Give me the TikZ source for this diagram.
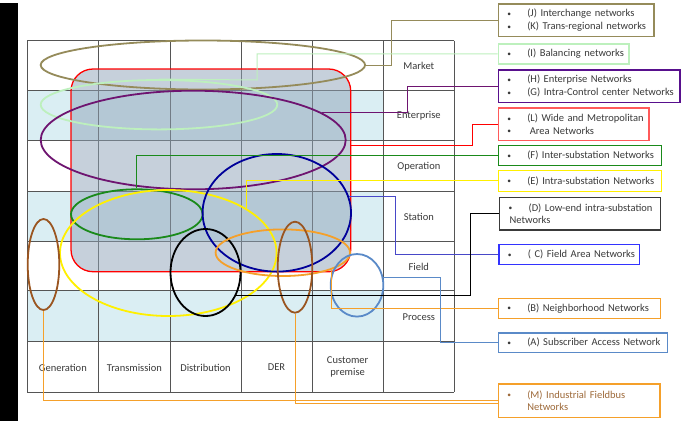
\documentclass[tikz,border=0pt]{standalone}
\usepackage{fontspec}
\setmainfont{Carlito}
\usetikzlibrary{shapes.geometric,calc}
\definecolor{lblue}{HTML}{DAEEF3}
\definecolor{gridc}{HTML}{555555}
\definecolor{olive}{HTML}{958B5A}
\definecolor{lgreen}{HTML}{BDF0BD}
\definecolor{purp}{HTML}{6E1470}
\definecolor{dgreen}{HTML}{1A8A1A}
\definecolor{yell}{HTML}{FFF000}
\definecolor{navy}{HTML}{000099}
\definecolor{orng}{HTML}{F5A02A}
\definecolor{steel}{HTML}{5A8AC8}
\definecolor{brwn}{HTML}{9A5520}
\definecolor{rfill}{HTML}{8FA3B8}
\definecolor{lred}{HTML}{FF5A5A}
\definecolor{bluebox}{HTML}{3333FF}
\definecolor{blueline}{HTML}{4848C8}
\definecolor{txt}{HTML}{3A3A3A}
\definecolor{mtxt}{HTML}{9E6A3A}
\newcommand\bl{\hspace*{9pt}\makebox[20pt][l]{\raisebox{0.5pt}{\fontsize{7.5}{8}\selectfont\textbullet}}}
\begin{document}
\begin{tikzpicture}[x=1pt,y=-1pt,
  gridline/.style={draw=gridc, line width=1pt},
  ell/.style={ellipse, draw, line width=1.8pt, inner sep=0pt},
  conn/.style={line width=1pt},
  netbox/.style={draw, line width=1.2pt, inner xsep=0pt, inner ysep=0pt, anchor=north west,
    align=left, text=txt, font=\fontsize{10.5}{12.8}\selectfont},
  lab/.style={font=\fontsize{10.5}{12}\selectfont, text=txt, align=center, inner sep=0pt}]
\useasboundingbox (0,0) rectangle (684,421);
\fill[white] (0,0) rectangle (684,421);
\fill[black] (0,3) rectangle (18,421);
% light blue rows
\fill[lblue] (27,90) rectangle (383.3,140.7);
\fill[lblue] (27,191) rectangle (383.3,241.3);
\fill[lblue] (27,290.7) rectangle (383.3,341.3);
% grid
\foreach \y in {40.7,90,140.7,191,241.3,290.7,341.3,392} \draw[gridline] (27,\y) -- (454.3,\y);
\foreach \x in {27,98.7,170,241,312,383.3,454.3} \draw[gridline] (\x,40.7) -- (\x,392);
% row labels
\node[lab] (tMarket) at (418.8,66) {Market};
\node[lab] (tEnterprise) at (418.8,116) {Enterprise};
\node[lab] (tOperation) at (418.8,166.5) {Operation};
\node[lab] (tStation) at (418.8,216.5) {Station};
\node[lab] (tField) at (418.8,266.7) {Field};
\node[lab] (tProcess) at (418.8,317) {Process};
% column labels
\node[lab] (tGen) at (62.85,367.5) {Generation};
\node[lab] (tTrans) at (134.35,367.5) {Transmission};
\node[lab] (tDist) at (205.5,367.5) {Distribution};
\node[lab] (tDER) at (276.5,367.5) {DER};
\node[lab] (tCust) at (347.65,367) {Customer\\premise};
% red rounded rectangle (L)
\node[draw=red, line width=1.3pt, fill=rfill, fill opacity=0.5, rounded corners=22pt,
  minimum width=279.7pt, minimum height=202.7pt, inner sep=0pt] (rL) at (210.85,170.35) {};
% ellipses
\node[ell, draw=olive, minimum width=324.4pt, minimum height=49pt] (eJ) at (202.85,65) {};
\node[ell, draw=lgreen, minimum width=236.6pt, minimum height=49.4pt] (eI) at (159,104.7) {};
\node[ell, draw=purp, minimum width=305pt, minimum height=98.6pt] (eH) at (193.2,140) {};
\node[ell, draw=dgreen, minimum width=131.6pt, minimum height=50pt] (eF) at (136.8,214.3) {};
\node[ell, draw=yell, minimum width=216.6pt, minimum height=126pt] (eE) at (168.3,253) {};
\node[ell, draw=navy, minimum width=148.4pt, minimum height=117.6pt] (eC) at (276.8,212.8) {};
\node[ell, draw=black, minimum width=70pt, minimum height=87pt] (eD) at (205.5,272.5) {};
\node[ell, draw=orng, minimum width=134.4pt, minimum height=46.6pt] (eB) at (282.8,252.7) {};
\node[ell, draw=steel, minimum width=52.6pt, minimum height=62.6pt] (eA) at (357,285.3) {};
\node[ell, draw=brwn, minimum width=31.6pt, minimum height=91pt] (eM1) at (43.5,264.5) {};
\node[ell, draw=brwn, minimum width=34.6pt, minimum height=91pt] (eM2) at (295,267.2) {};
% boxes
\node[netbox, draw=olive, minimum width=155.6pt, minimum height=32.7pt, text width=155.6pt] (bJ) at (497.7,3.3)
  {\bl(J) Interchange networks\\\bl(K) Trans-regional networks};
\node[netbox, draw=lgreen, minimum width=130.6pt, minimum height=20pt, text width=130.6pt] (bI) at (497.7,43.3)
  {\bl(I) Balancing networks};
\node[netbox, draw=purp!80!blue, minimum width=181.6pt, minimum height=32.4pt, text width=181.6pt] (bH) at (497.7,69.3)
  {\bl(H) Enterprise Networks\\\bl(G) Intra-Control center Networks};
\node[netbox, draw=lred, minimum width=150.6pt, minimum height=32.7pt, text width=150.6pt] (bL) at (497.7,107.3)
  {\bl(L) Wide and Metropolitan\\\bl\hspace{2.5pt}Area Networks};
\node[netbox, draw=dgreen, minimum width=163.3pt, minimum height=20pt, text width=163.3pt] (bF) at (497.7,145)
  {\bl(F) Inter-substation Networks};
\node[netbox, draw=yell, minimum width=163.3pt, minimum height=20.7pt, text width=163.3pt] (bE) at (497.7,170)
  {\bl(E) Intra-substation Networks};
\node[netbox, draw=txt, minimum width=161pt, minimum height=32.6pt, text width=161pt] (bDx) at (499,196.7)
  {\bl(D) Low-end intra-substation\\\hspace*{10pt}Networks};
\node[netbox, draw=bluebox, minimum width=140.7pt, minimum height=20pt, text width=140.7pt] (bC) at (498.3,244)
  {\bl( C) Field Area Networks};
\node[netbox, draw=orng, minimum width=162.3pt, minimum height=20pt, text width=162.3pt] (bB) at (497.7,297.7)
  {\bl(B) Neighborhood Networks};
\node[netbox, draw=steel, minimum width=169pt, minimum height=19.4pt, text width=169pt] (bA) at (497.7,332.3)
  {\bl(A) Subscriber Access Network};
\node[netbox, draw=orng, text=mtxt, minimum width=161.6pt, minimum height=33.4pt, text width=161.6pt] (bM) at (497.7,383.3)
  {\bl(M) Industrial Fieldbus\\\hspace*{29pt}Networks};
% connectors
\draw[conn, olive] (eJ.east) -| ([xshift=-106pt]bJ.west) -- (bJ.west);
\draw[conn, lgreen] (bI.west) -| (257,80) -- (eI.north);
\draw[conn, purp] (eH.12) -| ([xshift=-90.4pt]bH.west) -- (bH.west);
\draw[conn, red] ([yshift=25.3pt]rL.east) -| ([xshift=-25.4pt]bL.west) -- (bL.west);
\draw[conn, dgreen] (eF.north) |- (bF.west);
\draw[conn, yell] (eE.30) |- (bE.west);
\draw[conn, blueline] (eC.13) -| ([xshift=-102.6pt]bC.west) -- (bC.west);
\draw[conn, black] (eD.-37) -| ([xshift=-29pt]bDx.west) -- (bDx.west);
\draw[conn, orng] (eB.-19) |- (bB.west);
\draw[conn, steel] (eA.17) -| ([xshift=-57.7pt]bA.west) -- (bA.west);
\draw[conn, orng] (eM1.south) |- (bM.west);
\draw[conn, orng] (eM2.south) |- ([yshift=-3pt]bM.west);
\end{tikzpicture}
\end{document}
